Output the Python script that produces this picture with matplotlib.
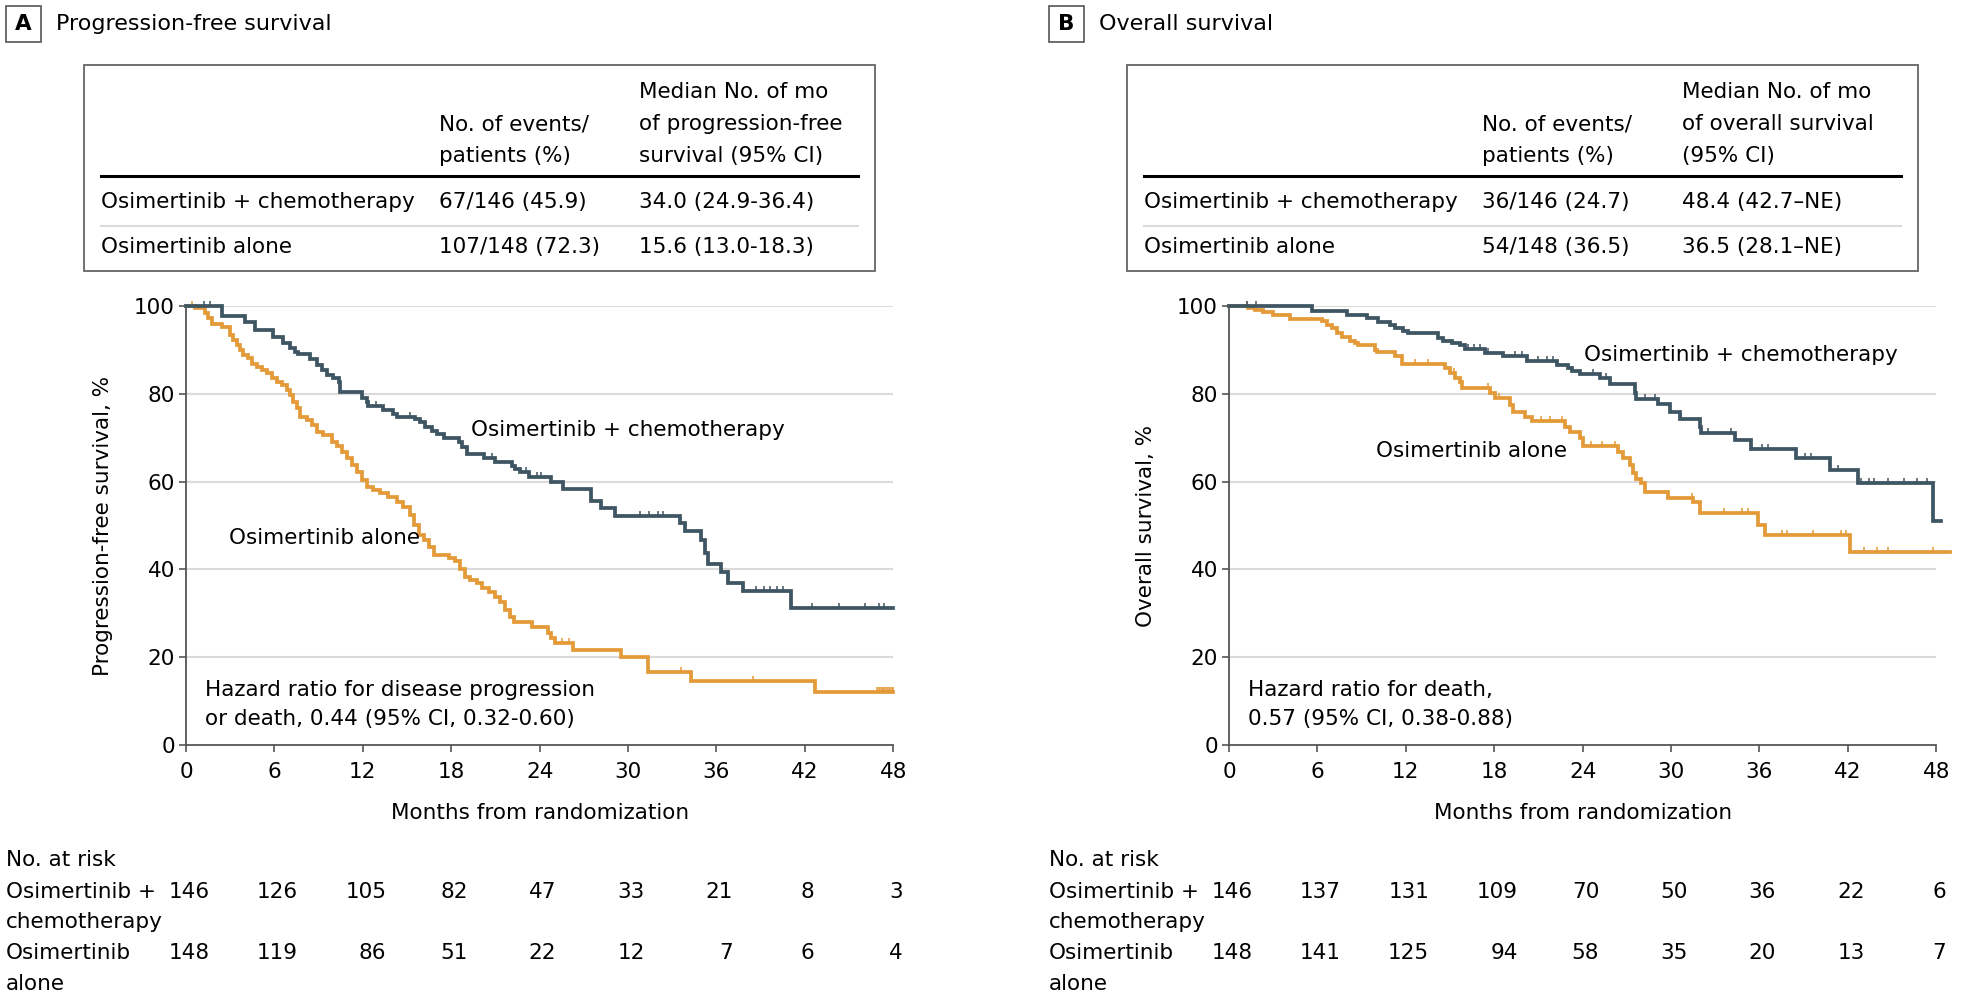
import numpy as np
import matplotlib
matplotlib.use("Agg")
import matplotlib.pyplot as plt
import matplotlib.transforms as mtransforms
from matplotlib.patches import Rectangle
from matplotlib.lines import Line2D

W, H = 1962, 998
plt.rcParams['font.family'] = ['DejaVu Sans']
FS = 15.5

DARK = '#3e5563'
ORANGE = '#e49a38'
GRID = '#dadada'
AXC = '#555555'

months = [0, 6, 12, 18, 24, 30, 36, 42, 48]

# ---- A: progression-free survival
pfs_chemo_t = [0, 2.42, 4.0, 4.69, 5.93, 6.61, 7.06, 7.4, 7.63, 8.42, 8.87, 9.21, 9.55, 10.0,
               10.35, 10.46, 11.93, 12.27, 12.38, 13.4, 14.08, 14.3, 15.55, 15.9, 16.23, 16.69,
               17.03, 17.48, 18.5, 18.72, 19.06, 20.2, 21.0, 22.1, 22.35, 22.7, 23.25, 24.79,
               25.58, 27.5, 28.19, 29.09, 33.5, 33.85, 34.98, 35.2, 35.43, 36.34, 36.79, 37.81,
               41.09, 48.0]
pfs_chemo_s = [100, 97.8, 96.4, 94.5, 93.0, 91.5, 90.4, 89.6, 89.0, 88.0, 86.6, 85.4, 84.3, 83.5,
               82.8, 80.3, 79.0, 78.2, 77.3, 76.3, 75.5, 74.8, 74.2, 73.5, 72.5, 71.6,
               70.8, 70.0, 69.0, 67.8, 66.2, 65.3, 64.4, 63.6, 62.9, 62.2, 61.0, 59.8,
               58.3, 55.6, 53.9, 52.2, 50.5, 48.7, 46.7, 43.7, 41.2, 39.3, 37.0, 35.1,
               31.1, 31.1]
pfs_chemo_cens = [1.2, 1.6, 12.9, 15.2, 20.8, 23.1, 23.8, 24.1, 30.8, 31.4, 32.0, 32.4,
                  38.7, 39.2, 39.6, 40.1, 40.5, 42.5, 44.3, 46.1, 47.0, 47.4]

pfs_alone_t = [0, 0.61, 1.29, 1.52, 1.74, 2.42, 2.99, 3.21, 3.44, 3.67, 3.89, 4.23, 4.46, 4.8,
               5.14, 5.48, 5.82, 6.16, 6.5, 6.84, 7.06, 7.29, 7.52, 7.74, 8.2, 8.54, 8.87, 9.33,
               9.89, 10.23, 10.57, 10.91, 11.25, 11.59, 11.93, 12.27, 12.72, 13.18, 13.74, 14.31,
               14.76, 15.21, 15.44, 15.78, 16.12, 16.46, 16.8, 17.82, 18.27, 18.61, 18.95, 19.29,
               19.74, 20.08, 20.53, 20.99, 21.33, 21.67, 22.0, 22.23, 23.48, 24.57, 24.79, 25.02,
               26.26, 29.55, 31.36, 34.3, 42.68, 48.0]
pfs_alone_s = [100, 99.5, 98.3, 97.2, 95.8, 95.3, 93.4, 92.3, 91.1, 90.0, 88.8, 88.1, 86.9, 86.2,
               85.4, 84.7, 83.5, 82.6, 82.0, 80.9, 79.7, 78.2, 76.7, 74.8, 74.0, 72.9, 71.4, 70.6,
               69.1, 68.0, 66.8, 65.3, 63.8, 62.3, 60.4, 58.8, 58.1, 57.3, 56.6, 55.4,
               54.3, 52.4, 50.1, 47.8, 46.7, 45.2, 43.3, 42.5, 41.8, 40.2, 38.3, 37.6,
               36.8, 35.7, 34.9, 33.8, 32.6, 30.8, 29.2, 28.1, 26.9, 25.5, 24.3, 23.2,
               21.6, 20.1, 16.7, 14.6, 12.1, 12.1]
pfs_alone_cens = [0.4, 25.5, 26.0, 33.6, 38.5, 46.9, 47.0, 47.1, 47.2, 47.3, 47.4, 47.5, 47.6,
                  47.7, 47.8, 47.9, 48.0]

# ---- B: overall survival
os_chemo_t = [0, 5.61, 7.99, 9.34, 10.14, 10.93, 11.27, 11.83, 12.17, 14.21, 14.55, 15.11, 15.68,
              16.02, 17.38, 18.62, 20.2, 22.24, 23.03, 23.26, 23.79, 25.15, 25.83, 27.52, 27.64,
              29.11, 29.9, 30.58, 31.93, 32.05, 34.31, 35.44, 38.5, 40.76, 42.68, 47.77, 48.35]
os_chemo_s = [100, 98.9, 97.9, 97.3, 96.4, 95.7, 94.9, 94.3, 93.8, 92.6, 92.0, 91.5, 91.1,
              90.2, 89.4, 88.6, 87.5, 86.6, 85.8, 85.2, 84.4, 83.5, 82.2, 80.1, 78.8,
              77.6, 75.8, 74.3, 72.5, 71.0, 69.5, 67.4, 65.3, 62.6, 59.6, 51.0, 51.0]
os_chemo_cens = [1.2, 1.8, 16.2, 16.6, 17.0, 17.6, 19.4, 19.9, 21.0, 21.6, 22.0, 24.7, 25.6,
                 28.2, 28.9, 30.7, 32.5, 34.1, 36.2, 36.6, 39.1, 39.5, 41.3, 42.9, 43.4, 43.8,
                 44.7, 45.8, 46.7, 47.4]

os_alone_t = [0, 1.31, 1.76, 2.33, 3.01, 4.14, 6.29, 6.63, 6.97, 7.31, 7.65, 8.21, 8.55, 8.78,
              9.91, 10.02, 11.27, 11.72, 14.66, 15.0, 15.34, 15.68, 15.79, 17.71, 18.05, 19.07,
              19.3, 20.09, 20.54, 22.81, 23.14, 23.79, 24.0, 26.39, 26.73, 27.18, 27.41, 27.64,
              27.97, 28.2, 29.78, 31.48, 31.93, 35.89, 36.35, 42.12, 48.9]
os_alone_s = [100, 99.5, 99.1, 98.7, 97.9, 97.0, 96.6, 95.7, 94.9, 93.8, 93.0, 92.0, 91.5, 91.1,
              90.0, 89.6, 88.5, 86.9, 85.8, 84.7, 83.7, 82.6, 81.4, 80.1, 79.1, 77.4,
              75.9, 74.8, 73.8, 72.5, 71.4, 69.9, 68.0, 66.8, 65.3, 63.8, 61.9, 60.7,
              59.6, 57.7, 56.3, 55.4, 52.8, 50.1, 47.8, 44.0, 44.0]
os_alone_cens = [1.2, 12.6, 13.5, 15.3, 17.6, 18.3, 21.2, 21.8, 22.6, 24.6, 25.3, 26.2, 31.4,
                 33.6, 34.8, 35.2, 37.5, 37.9, 39.6, 41.5, 41.9, 43.1, 44.0, 44.7, 47.8]

risk_pfs_chemo = [146, 126, 105, 82, 47, 33, 21, 8, 3]
risk_pfs_alone = [148, 119, 86, 51, 22, 12, 7, 6, 4]
risk_os_chemo = [146, 137, 131, 109, 70, 50, 36, 22, 6]
risk_os_alone = [148, 141, 125, 94, 58, 35, 20, 13, 7]

arm_names = ['Osimertinib + chemotherapy', 'Osimertinib alone']
pfs_table = [['67/146 (45.9)', '34.0 (24.9-36.4)'], ['107/148 (72.3)', '15.6 (13.0-18.3)']]
os_table = [['36/146 (24.7)', '48.4 (42.7\u2013NE)'], ['54/148 (36.5)', '36.5 (28.1\u2013NE)']]

fig = plt.figure(figsize=(W / 100, H / 100), dpi=100)


def fx(px):
    return px / W


def fy(py):
    return 1 - py / H


def step_at(t, s, x):
    i = np.searchsorted(t, x, side='right') - 1
    return np.asarray(s)[i]


def panel(dx, letter, title, med_head, table, ylabel, curves, risk, hazard, lab_pos):
    # panel letter and title
    fig.add_artist(Rectangle((fx(6 + dx), fy(42)), 35 / W, 36 / H, transform=fig.transFigure,
                             fill=False, ec=AXC, lw=1.2))
    fig.text(fx(23.5 + dx), fy(24), letter, ha='center', va='center', fontsize=FS, weight='bold')
    fig.text(fx(56 + dx), fy(24), title, ha='left', va='center', fontsize=16)

    # summary table
    fig.add_artist(Rectangle((fx(84 + dx), fy(271)), 791 / W, 206 / H, transform=fig.transFigure,
                             fill=False, ec='#666666', lw=1.3))
    fig.text(fx(439 + dx), fy(124), 'No. of events/', va='center', fontsize=FS)
    fig.text(fx(439 + dx), fy(156), 'patients (%)', va='center', fontsize=FS)
    for yy, line in zip([92, 124, 156], med_head):
        fig.text(fx(639 + dx), fy(yy), line, va='center', fontsize=FS)
    fig.add_artist(Line2D([fx(101 + dx), fx(858 + dx)], [fy(176), fy(176)],
                          transform=fig.transFigure, color='black', lw=2.2))
    fig.add_artist(Line2D([fx(101 + dx), fx(858 + dx)], [fy(226), fy(226)],
                          transform=fig.transFigure, color=GRID, lw=1.5))
    for yy, name, row in zip([202, 247], arm_names, table):
        fig.text(fx(101 + dx), fy(yy), name, va='center', fontsize=FS)
        fig.text(fx(439 + dx), fy(yy), row[0], va='center', fontsize=FS)
        fig.text(fx(639 + dx), fy(yy), row[1], va='center', fontsize=FS)

    # survival plot
    ax = fig.add_axes([fx(186 + dx), fy(745), 707.3 / W, 439 / H])
    ax.set_xlim(0, 48)
    ax.set_ylim(0, 100)
    for sp in ['top', 'right']:
        ax.spines[sp].set_visible(False)
    for sp in ['left', 'bottom']:
        ax.spines[sp].set_color(AXC)
        ax.spines[sp].set_linewidth(1.3)
    ax.set_xticks(months)
    ax.set_yticks(range(0, 101, 20))
    ax.tick_params(axis='both', length=5, width=1.2, color=AXC, labelsize=FS)
    ax.tick_params(axis='x', pad=7)
    ax.tick_params(axis='y', pad=3)
    for g in range(20, 101, 20):
        ax.axhline(g, color=GRID, lw=1.5, zorder=0)

    for t, s, cens, col in curves:
        ax.step(t, s, where='post', color=col, lw=2.7, clip_on=False, zorder=3,
                solid_joinstyle='miter')
        ax.plot(cens, step_at(t, s, cens), ls='none', marker=[(0, 0), (0, 1)], ms=6.5,
                mew=1.1, color=col, clip_on=False, zorder=3)

    ax.text(-0.117, 0.5, ylabel, transform=ax.transAxes, rotation=90, ha='center',
            va='center', fontsize=FS)
    fig.text(fx(540 + dx), fy(813), 'Months from randomization', ha='center', va='center',
             fontsize=FS)

    (cx, cy), (ox, oy) = lab_pos
    ax.text(cx, cy, 'Osimertinib + chemotherapy', va='center', fontsize=FS)
    ax.text(ox, oy, 'Osimertinib alone', va='center', fontsize=FS)
    ax.text(1.3, 12.5, hazard[0], va='center', fontsize=FS)
    ax.text(1.3, 5.9, hazard[1], va='center', fontsize=FS)

    # number at risk
    fig.text(fx(6 + dx), fy(860), 'No. at risk', va='center', fontsize=FS)
    fig.text(fx(6 + dx), fy(892), 'Osimertinib +', va='center', fontsize=FS)
    fig.text(fx(6 + dx), fy(922), 'chemotherapy', va='center', fontsize=FS)
    fig.text(fx(6 + dx), fy(953), 'Osimertinib', va='center', fontsize=FS)
    fig.text(fx(6 + dx), fy(984), 'alone', va='center', fontsize=FS)
    base = mtransforms.blended_transform_factory(ax.transData, fig.transFigure)
    for j, m in enumerate(months):
        n = max(len(str(risk[0][j])), len(str(risk[1][j])))
        tr = mtransforms.offset_copy(base, fig=fig, x=(n * 6.8 + 3) * 0.72, units='points')
        fig.text(m, fy(892), str(risk[0][j]), transform=tr, ha='right', va='center', fontsize=FS)
        fig.text(m, fy(953), str(risk[1][j]), transform=tr, ha='right', va='center', fontsize=FS)
    return ax


panel(0, 'A', 'Progression-free survival',
      ['Median No. of mo', 'of progression-free', 'survival (95% CI)'], pfs_table,
      'Progression-free survival, %',
      [(pfs_alone_t, pfs_alone_s, pfs_alone_cens, ORANGE),
       (pfs_chemo_t, pfs_chemo_s, pfs_chemo_cens, DARK)],
      [risk_pfs_chemo, risk_pfs_alone],
      ['Hazard ratio for disease progression', 'or death, 0.44 (95% CI, 0.32-0.60)'],
      [(19.37, 71.8), (2.9, 47.2)])

panel(1043, 'B', 'Overall survival',
      ['Median No. of mo', 'of overall survival', '(95% CI)'], os_table,
      'Overall survival, %',
      [(os_alone_t, os_alone_s, os_alone_cens, ORANGE),
       (os_chemo_t, os_chemo_s, os_chemo_cens, DARK)],
      [risk_os_chemo, risk_os_alone],
      ['Hazard ratio for death,', '0.57 (95% CI, 0.38-0.88)'],
      [(24.1, 88.8), (10.0, 67.0)])

fig.savefig('out.png', dpi=100)
